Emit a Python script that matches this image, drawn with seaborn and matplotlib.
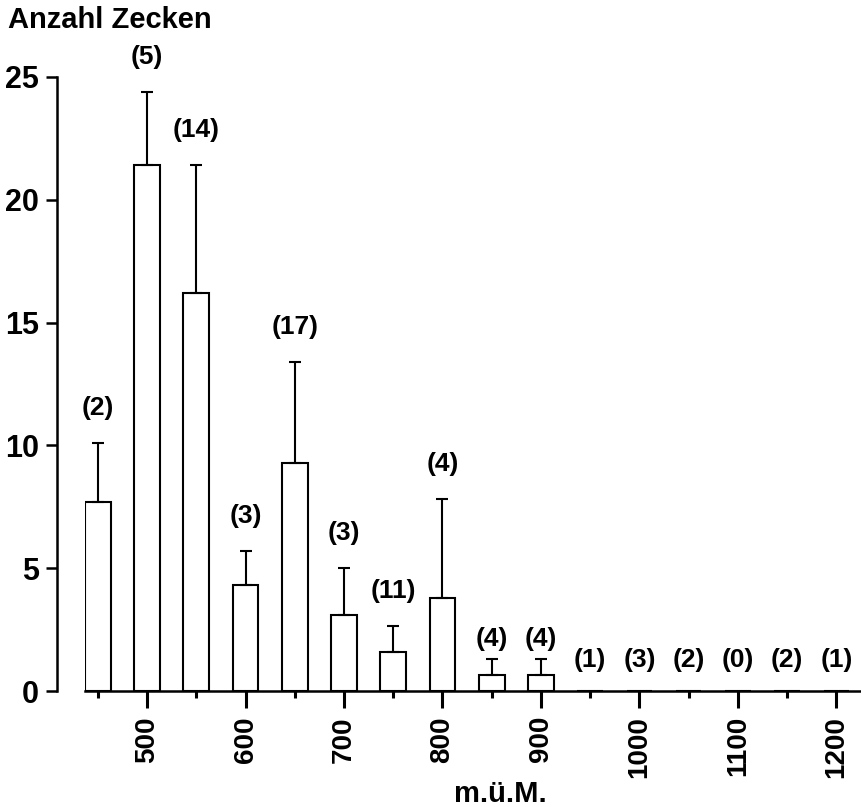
import numpy as np
import pandas as pd
import matplotlib.pyplot as plt
import seaborn as sns
from matplotlib.ticker import MultipleLocator

# Höhenstufen (m ü. M.) und mittlere Anzahl Zecken
altitude = [450, 500, 550, 600, 650, 700, 750, 800, 850, 900,
            950, 1000, 1050, 1100, 1150, 1200]
mean_ticks = [7.7, 21.4, 16.2, 4.3, 9.3, 3.1, 1.6, 3.8, 0.65, 0.65,
              0, 0, 0, 0, 0, 0]
# obere Grenze des Fehlerbalkens (nan = kein Balken)
upper_err = [10.1, 24.4, 21.4, 5.7, 13.4, 5.0, 2.65, 7.8, 1.3, 1.3,
             np.nan, np.nan, np.nan, np.nan, np.nan, np.nan]
# Anzahl Standorte pro Stufe
n_sites = [2, 5, 14, 3, 17, 3, 11, 4, 4, 4, 1, 3, 2, 0, 2, 1]

df = pd.DataFrame({'altitude': altitude, 'mean': mean_ticks,
                   'upper': upper_err, 'n': n_sites})

sns.set_style('ticks')
plt.rcParams['font.family'] = ['Liberation Sans', 'DejaVu Sans']
plt.rcParams['font.weight'] = 'bold'
for key in ['text.color', 'axes.labelcolor', 'xtick.color', 'ytick.color', 'axes.edgecolor']:
    plt.rcParams[key] = 'black'

fig = plt.figure(figsize=(8.61, 8.07), dpi=100)
ax = fig.add_axes([0.0987, 0.1437, 0.9013, 0.761])

sns.barplot(data=df, x='altitude', y='mean', native_scale=True, width=0.52,
            color='white', saturation=1, edgecolor='black', linewidth=1.5,
            errorbar=None, ax=ax)

# nur obere Fehlerbalken
err = df.dropna(subset=['upper'])
ax.errorbar(err['altitude'], err['mean'],
            yerr=[np.zeros(len(err)), err['upper'] - err['mean']],
            fmt='none', ecolor='black', elinewidth=1.5, capsize=4, capthick=1.5)

# Anzahl Standorte über den Balken
for _, row in df.iterrows():
    if np.isnan(row['upper']):
        y = 1.26
    else:
        y = row['upper'] + (1.43 if row['upper'] - row['mean'] > 1 else 0.8)
    ax.text(row['altitude'], y, f"({int(row['n'])})", ha='center', va='center',
            fontsize=19, fontweight='bold', clip_on=False)

ax.set_xlim(437, 1225)
ax.set_ylim(0, 25)
ax.xaxis.set_major_locator(MultipleLocator(100))
ax.xaxis.set_minor_locator(MultipleLocator(100, offset=50))
ax.yaxis.set_major_locator(MultipleLocator(5))

for s in ['top', 'right']:
    ax.spines[s].set_visible(False)
ax.spines['left'].set_position(('outward', 20))
ax.spines['left'].set_bounds(0, 25)
ax.spines['left'].set_linewidth(1.8)
ax.spines['bottom'].set_linewidth(1.8)

ax.tick_params(axis='x', which='major', length=12, width=2.2, labelsize=20,
               labelrotation=90, pad=6)
ax.tick_params(axis='x', which='minor', length=5, width=2.2)
ax.tick_params(axis='y', length=8, width=1.8, labelsize=22, pad=5)

ax.set_xlabel('m.ü.M.', fontsize=21, fontweight='bold')
ax.xaxis.set_label_coords(0.535, -0.145)
ax.set_ylabel('')
fig.text(0.009, 0.975, 'Anzahl Zecken', ha='left', va='center',
         fontsize=21, fontweight='bold')

fig.savefig('out.png', dpi=100)
